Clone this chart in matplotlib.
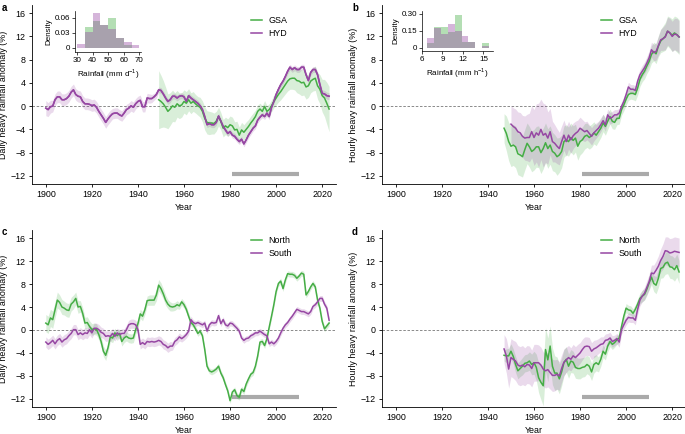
import numpy as np
import matplotlib
matplotlib.use("Agg")
import matplotlib.pyplot as plt

plt.rcParams['font.family'] = ['Liberation Sans', 'DejaVu Sans']
plt.rcParams['mathtext.fontset'] = 'custom'
plt.rcParams['mathtext.rm'] = 'Liberation Sans'
plt.rcParams['axes.unicode_minus'] = True

# =============================================================================
# data

years_full = np.arange(1900, 2024)

# a) daily, GSA vs HYD
hyd_a = [-0.35,-0.6,-0.1,0.0,1.1,1.6,1.6,1.1,1.1,1.3,
         1.7,2.4,2.8,2.0,1.7,1.6,0.8,0.4,0.4,0.3,
         0.1,0.2,-0.2,-0.9,-1.5,-2.1,-2.8,-2.2,-1.7,-1.3,
         -1.2,-1.2,-1.5,-1.7,-1.2,-0.6,-0.35,0.05,-0.2,0.4,
         0.8,1.0,-0.1,-0.1,1.4,1.3,1.3,1.6,2.0,2.8,
         2.7,2.1,1.4,0.8,1.1,1.7,1.7,1.4,1.7,1.8,
         1.6,0.8,1.8,1.4,1.1,0.8,0.5,0.05,-0.6,-1.8,
         -3.2,-3.0,-3.2,-3.2,-2.8,-1.7,-2.6,-3.5,-4.1,-4.7,
         -4.4,-5.0,-5.2,-5.7,-6.1,-5.7,-6.5,-5.8,-5.0,-4.4,
         -3.8,-3.4,-2.4,-1.9,-1.5,-1.8,-1.2,-1.8,-0.2,0.8,
         2.0,2.9,3.7,4.3,5.1,6.0,6.7,6.3,6.6,6.3,
         6.3,6.7,6.7,5.4,4.4,5.8,6.3,6.3,5.4,3.7,
         2.2,2.1,1.8,1.7]
hyd_a_err = [1.3,1.2,1.1,1.0,1.0,1.0,1.0,1.0,1.0,1.0,
             1.0,1.0,1.0,1.0,1.0,1.0,1.0,1.0,1.0,1.0,
             1.0,1.0,1.0,1.0,1.0,1.0,1.0,1.0,1.0,0.9,
             0.9,0.9,0.9,0.9,0.9,0.9,0.9,0.9,0.9,0.9,
             0.9,0.9,0.9,0.9,0.8,0.8,0.7,0.6,0.6,0.5,
             0.5,0.5,0.5,0.5,0.5,0.5,0.5,0.5,0.5,0.5,
             0.5,0.5,0.5,0.5,0.5,0.5,0.5,0.5,0.5,0.5,
             0.5,0.5,0.5,0.5,0.5,0.5,0.5,0.5,0.5,0.5,
             0.5,0.5,0.5,0.5,0.5,0.5,0.5,0.5,0.5,0.5,
             0.5,0.5,0.5,0.5,0.5,0.5,0.5,0.5,0.5,0.5,
             0.5,0.5,0.5,0.5,0.5,0.5,0.5,0.5,0.5,0.5,
             0.5,0.5,0.5,0.5,0.5,0.5,0.5,0.5,0.5,0.6,
             0.6,0.6,0.6,0.6]
years_gsa_a = np.arange(1949, 2024)
gsa_a = [1.1,
         0.8,0.4,-0.2,-0.9,-0.5,0.05,-0.2,0.4,0.05,0.2,
         0.8,0.5,1.1,0.5,0.8,0.4,0.05,-0.2,-0.9,-2.1,
         -2.8,-2.9,-2.9,-3.0,-2.6,-1.8,-2.6,-3.8,-3.4,-3.7,
         -3.2,-3.4,-4.1,-4.0,-5.0,-4.1,-4.5,-4.0,-3.5,-2.9,
         -2.4,-1.8,-0.9,-0.5,-0.9,-0.05,-0.9,-0.6,0.05,0.8,
         1.4,2.0,2.5,3.1,3.7,4.3,4.7,4.8,4.8,4.4,
         4.3,4.0,4.1,3.3,3.5,4.3,4.6,4.8,3.5,2.9,
         1.8,1.4,0.5,-0.5]
gsa_a_err = [5.0,
             4.5,4.0,3.5,3.0,2.8,2.7,2.5,2.3,2.2,2.1,
             2.0,2.0,1.9,1.8,1.7,1.6,1.6,1.7,1.8,2.0,
             2.0,2.0,1.9,1.8,1.7,1.6,1.5,1.5,1.5,1.5,
             1.5,1.5,1.4,1.4,1.4,1.3,1.3,1.3,1.2,1.2,
             1.2,1.1,1.1,1.0,1.0,1.0,1.0,1.0,1.0,1.1,
             1.2,1.3,1.4,1.5,1.6,1.7,1.8,1.9,2.0,2.1,
             2.2,2.2,2.2,2.1,2.0,2.0,2.0,2.1,2.3,2.5,
             2.8,3.2,3.6,3.9]

# b) hourly, GSA vs HYD
years_gsa_b = np.arange(1947, 2024)
gsa_b = [-3.8,-4.7,-6.1,
         -6.9,-6.7,-7.0,-8.2,-8.4,-8.7,-7.5,-6.4,-7.0,-7.8,
         -7.5,-7.0,-7.0,-8.0,-7.3,-6.3,-7.3,-6.7,-7.8,-8.1,
         -8.7,-8.4,-7.8,-6.1,-5.8,-6.1,-5.4,-5.9,-5.5,-6.9,
         -6.1,-5.8,-5.2,-5.0,-5.4,-5.1,-4.6,-5.0,-4.4,-3.8,
         -2.9,-3.5,-2.6,-1.8,-2.6,-2.8,-2.1,-2.1,-0.6,0.2,
         1.2,2.0,2.2,2.2,2.0,3.1,4.6,5.4,6.0,6.9,
         7.7,8.9,9.4,9.0,10.3,11.2,11.6,12.0,12.9,12.6,
         12.2,12.6,12.3,11.9]
gsa_b_err = [2.5,3.0,3.3,
             3.5,3.5,3.6,3.6,3.6,3.5,3.5,3.5,3.5,3.5,
             3.5,3.5,3.6,3.6,3.5,3.4,3.4,3.3,3.3,3.2,
             3.2,3.0,2.8,2.7,2.6,2.5,2.5,2.5,2.4,2.4,
             2.3,2.2,2.2,2.1,2.0,2.0,1.9,1.8,1.7,1.6,
             1.5,1.5,1.4,1.3,1.3,1.2,1.1,1.0,1.0,1.0,
             1.0,1.0,1.0,1.1,1.1,1.2,1.2,1.2,1.3,1.3,
             1.4,1.5,1.6,1.7,1.8,2.0,2.2,2.4,2.6,2.7,
             2.8,2.9,3.0,3.0]
years_hyd_b = np.arange(1950, 2024)
hyd_b = [-3.1,-3.5,-3.8,-4.4,-4.6,-5.2,-5.5,-5.4,-5.4,-4.4,
         -5.4,-4.6,-5.0,-4.0,-5.0,-4.7,-5.5,-4.4,-6.1,-6.4,
         -6.9,-7.3,-6.1,-5.0,-6.1,-5.0,-5.8,-5.1,-4.7,-4.4,
         -3.8,-4.1,-4.4,-4.2,-4.7,-5.2,-4.6,-4.2,-3.8,-3.2,
         -2.5,-3.2,-1.5,-2.1,-1.9,-1.5,-1.5,-1.2,-0.05,0.8,
         2.0,3.3,2.9,2.9,2.7,4.3,5.4,6.0,6.6,7.4,
         8.3,9.7,9.2,9.4,10.4,11.4,11.6,11.9,12.9,12.6,
         12.0,12.4,12.3,11.9]
hyd_b_err = [3.2,3.2,3.3,3.4,3.5,3.6,3.8,4.0,4.2,4.5,
             4.8,5.0,5.5,5.2,5.5,5.0,4.5,4.0,3.5,3.2,
             3.0,2.8,2.7,2.6,2.5,2.4,2.3,2.2,2.1,2.0,
             1.9,1.8,1.7,1.6,1.5,1.5,1.4,1.3,1.2,1.2,
             1.1,1.1,1.0,1.0,1.0,0.9,0.9,0.8,0.8,0.8,
             0.8,0.8,0.8,0.8,0.8,0.9,0.9,1.0,1.0,1.1,
             1.2,1.3,1.4,1.5,1.6,1.8,2.0,2.2,2.4,2.5,
             2.6,2.7,2.8,2.8]

# c) daily, North vs South
north_c = [1.2,0.9,2.1,1.8,3.5,5.2,4.8,4.0,3.8,3.5,
           3.4,4.5,4.9,5.5,4.0,4.1,2.9,1.2,1.3,0.6,
           0.1,0.2,0.1,-0.8,-2.0,-3.7,-4.4,-3.1,-1.2,-1.4,
           -0.5,-1.0,-0.6,-2.0,-1.4,-1.1,-1.4,-1.5,-1.4,0.06,
           1.1,2.8,2.4,3.5,5.1,5.2,5.2,5.2,6.1,7.8,
           7.2,6.3,5.2,4.5,4.1,4.0,4.1,4.4,4.2,4.9,
           4.4,3.6,2.4,1.3,0.9,0.2,-0.6,-0.2,-1.0,-3.4,
           -6.3,-7.1,-7.3,-7.1,-6.8,-6.3,-7.5,-8.3,-9.5,-10.6,
           -12.3,-10.8,-10.4,-11.4,-11.7,-10.3,-10.7,-9.4,-8.5,-7.7,
           -7.4,-6.3,-4.5,-2.1,-2.0,-2.7,-1.5,0.5,2.4,4.4,
           6.7,8.1,8.5,7.2,8.7,9.8,9.7,9.7,9.5,9.0,
           9.4,9.9,9.7,6.1,6.7,7.5,8.1,7.5,5.2,3.8,
           1.5,0.2,0.7,1.2]
north_c_err = [1.5,1.5,1.5,1.5,1.4,1.4,1.3,1.3,1.2,1.2,
               1.2,1.2,1.2,1.1,1.1,1.0,1.0,1.0,1.0,1.0,
               1.0,1.0,1.0,0.9,0.9,0.9,0.9,0.8,0.8,0.8,
               0.8,0.8,0.8,0.8,0.8,0.8,0.8,0.8,0.8,0.8,
               0.8,0.8,0.8,0.8,0.8,0.9,0.9,0.9,1.0,1.0,
               1.0,0.9,0.9,0.8,0.8,0.7,0.7,0.7,0.6,0.6,
               0.6,0.6,0.6,0.6,0.5,0.5,0.5,0.5,0.5,0.5,
               0.5,0.5,0.5,0.5,0.5,0.5,0.5,0.5,0.5,0.5,
               0.5,0.5,0.5,0.5,0.5,0.5,0.5,0.5,0.5,0.5,
               0.5,0.5,0.5,0.5,0.5,0.5,0.5,0.5,0.5,0.5,
               0.5,0.5,0.5,0.5,0.5,0.5,0.5,0.5,0.5,0.5,
               0.5,0.5,0.5,0.5,0.5,0.5,0.5,0.5,0.5,0.5,
               0.5,0.5,0.5,0.5]
south_c = [-2.1,-2.5,-2.2,-1.8,-2.4,-1.8,-1.5,-2.1,-1.7,-1.5,
           -1.0,-0.6,0.06,0.06,-0.8,-0.5,-0.8,-0.5,-0.6,0.06,
           -0.5,0.3,0.3,0.06,-0.4,-0.6,-1.1,-1.0,-1.1,-0.6,
           -1.1,-0.5,-0.8,-0.6,-0.6,0.06,0.9,1.1,1.1,0.9,
           0.06,-2.5,-2.2,-2.5,-2.0,-2.1,-2.0,-2.1,-2.0,-1.8,
           -2.0,-2.5,-2.7,-3.1,-2.8,-2.8,-2.0,-1.7,-1.2,-1.5,
           -1.2,-0.8,-0.2,1.8,1.3,1.1,1.3,1.1,0.9,1.2,
           -0.2,0.9,1.3,1.2,1.3,2.5,1.1,1.8,0.9,0.7,
           1.2,1.1,0.7,0.3,-0.2,-1.4,-1.8,-1.5,-1.4,-1.0,
           -0.8,-0.5,-0.5,-0.2,-0.5,-0.8,-1.0,-2.4,-2.1,-2.4,
           -2.0,-1.4,-0.5,0.3,0.9,1.3,1.9,2.4,3.0,3.6,
           3.4,3.2,3.2,3.0,2.8,3.2,4.1,4.4,4.9,5.5,
           5.5,4.5,3.8,1.7]
south_c_err = [0.9,0.9,0.9,0.9,0.9,0.9,0.9,0.9,0.9,0.9,
               0.9,0.9,0.9,0.9,0.9,0.9,0.9,0.9,0.9,0.9,
               0.9,0.9,0.9,0.9,0.9,0.9,0.9,0.9,0.9,0.9,
               0.8,0.8,0.8,0.8,0.8,0.8,0.8,0.8,0.8,0.8,
               0.8,0.8,0.8,0.8,0.8,0.8,0.8,0.8,0.8,0.8,
               0.8,0.8,0.8,0.8,0.8,0.7,0.7,0.7,0.7,0.6,
               0.6,0.6,0.6,0.6,0.5,0.5,0.5,0.5,0.5,0.5,
               0.5,0.5,0.5,0.5,0.5,0.5,0.5,0.5,0.5,0.5,
               0.5,0.5,0.5,0.5,0.5,0.5,0.5,0.5,0.5,0.5,
               0.5,0.5,0.5,0.5,0.5,0.5,0.5,0.5,0.5,0.5,
               0.5,0.5,0.5,0.5,0.5,0.5,0.5,0.5,0.5,0.5,
               0.5,0.5,0.5,0.5,0.5,0.5,0.5,0.5,0.5,0.5,
               0.5,0.5,0.5,0.5]

# d) hourly, North vs South
years_d = np.arange(1947, 2024)
north_d = [-4.4,-4.5,-4.5,
           -3.7,-4.6,-6.0,-7.1,-6.7,-6.3,-5.8,-5.7,-5.4,-6.0,
           -5.7,-6.5,-8.3,-9.1,-9.7,-3.4,-5.2,-2.8,-6.3,-7.5,
           -7.5,-8.5,-7.3,-5.7,-5.1,-6.3,-5.4,-5.6,-6.5,-6.7,
           -6.7,-6.5,-6.4,-6.0,-6.3,-7.3,-6.0,-5.7,-6.0,-5.1,
           -3.7,-4.2,-2.8,-2.0,-2.5,-2.2,-1.7,-1.4,0.6,2.4,
           3.8,3.5,3.4,2.9,3.6,4.5,5.5,5.9,6.2,7.1,
           8.2,9.2,8.1,7.8,9.0,10.7,10.9,11.6,11.8,11.0,
           10.9,10.5,11.2,10.1]
north_d_err = [1.0,1.2,1.3,
               1.3,1.3,1.4,1.4,1.4,1.5,1.5,1.5,1.6,1.8,
               2.0,2.3,2.6,3.0,3.5,3.8,3.8,3.5,3.2,3.0,
               2.8,2.6,2.4,2.3,2.2,2.1,2.0,1.9,1.9,1.8,
               1.8,1.7,1.7,1.6,1.6,1.5,1.5,1.4,1.3,1.2,
               1.1,1.0,1.0,0.9,0.9,0.8,0.8,0.8,0.8,0.8,
               0.8,0.8,0.8,0.8,0.8,0.9,0.9,1.0,1.0,1.1,
               1.2,1.3,1.4,1.5,1.6,1.7,1.8,1.9,2.0,2.0,
               2.0,2.0,2.0,2.0]
south_d = [-3.3,-4.5,-6.8,
           -4.8,-5.1,-5.4,-6.1,-6.3,-6.1,-6.4,-6.0,-6.1,-6.7,
           -5.7,-5.7,-5.7,-6.1,-6.8,-7.1,-6.9,-7.4,-7.9,-7.9,
           -7.7,-8.0,-6.7,-5.6,-5.2,-4.8,-5.1,-4.5,-4.8,-4.4,
           -4.0,-3.4,-2.9,-2.8,-2.9,-3.7,-3.3,-3.1,-2.8,-2.5,
           -2.4,-1.8,-1.7,-1.4,-2.0,-1.8,-1.5,-2.1,0.06,0.9,
           1.7,2.2,2.1,2.1,1.7,3.6,5.2,5.9,6.4,7.4,
           8.4,9.9,9.8,10.4,11.1,12.1,12.8,13.8,13.7,13.4,
           13.5,13.7,13.6,13.5]
south_d_err = [2.5,3.0,3.3,
               3.3,3.3,3.4,3.4,3.4,3.4,3.3,3.3,3.3,3.2,
               3.2,3.2,3.1,3.1,3.0,3.0,3.0,2.9,2.8,2.7,
               2.6,2.5,2.4,2.3,2.2,2.1,2.0,2.0,1.9,1.9,
               1.8,1.8,1.7,1.6,1.6,1.5,1.5,1.4,1.3,1.3,
               1.2,1.1,1.1,1.0,1.0,0.9,0.9,0.9,0.8,0.8,
               0.8,0.8,0.8,0.8,0.8,0.9,1.0,1.0,1.1,1.2,
               1.3,1.4,1.5,1.6,1.8,2.0,2.2,2.4,2.5,2.5,
               2.5,2.5,2.5,2.5]

# inset histograms
bins_daily = np.arange(30, 75, 5)
dens_daily_gsa = [0.0, 0.041, 0.053, 0.045, 0.059, 0.02, 0.005, 0.0]
dens_daily_hyd = [0.007, 0.031, 0.069, 0.045, 0.037, 0.019, 0.012, 0.005]
bins_hourly = np.arange(6.8, 16.0, 1.0)
dens_hourly_gsa = [0.045, 0.18, 0.18, 0.14, 0.285, 0.05, 0.05, 0.0, 0.04]
dens_hourly_hyd = [0.09, 0.17, 0.12, 0.21, 0.15, 0.10, 0.05, 0.0, 0.015]

ref_period = [1981, 2010]

# =============================================================================
# styling

GREEN = '#45ad45'
PURPLE = '#9647a3'
FS = 6.4
W, H = 685., 434.

fig = plt.figure(figsize=(W/100, H/100), dpi=100)

def px_axes(l, t, r, b):
    return fig.add_axes([l/W, 1-b/H, (r-l)/W, (b-t)/H])

def style_main(ax, ylab):
    ax.set_xlim(1894, 2026)
    ax.set_ylim(-13.4, 17.4)
    ax.set_xticks(np.arange(1900, 2021, 20))
    ax.set_yticks(np.arange(-12, 17, 4))
    for s in ['top', 'right']:
        ax.spines[s].set_visible(False)
    for s in ['left', 'bottom']:
        ax.spines[s].set_linewidth(0.6)
    ax.tick_params(labelsize=FS, length=2.5, width=0.6, pad=2)
    ax.set_xlabel('Year', fontsize=FS, labelpad=2.5)
    ax.set_ylabel(ylab, fontsize=FS, labelpad=2)
    ax.axhline(0, color='#777777', lw=0.6, ls=(0, (3, 2)), zorder=1)
    ax.plot(ref_period, [-11.7, -11.7], color='#aaaaaa', lw=3, solid_capstyle='butt', zorder=2)

def band_line(ax, x, y, e, color, label):
    y = np.array(y); e = np.array(e)
    ax.fill_between(x, y-e, y+e, color=color, alpha=0.2, lw=0, zorder=2)
    ax.plot(x, y, color=color, lw=1.1, label=label, zorder=3)

def legend(ax, ytop):
    ax.legend(loc='upper left', bbox_to_anchor=(0.72, ytop), frameon=False, fontsize=FS,
              handlelength=1.2, handletextpad=0.8, labelspacing=0.45, borderpad=0, borderaxespad=0)

def inset(ax, bins, g, p, width, xlim, ylim, xt, yt, ytl, xlab):
    ax.bar(bins[:len(g)], g, width=width, align='edge', color=GREEN, alpha=0.4, lw=0)
    ax.bar(bins[:len(p)], p, width=width, align='edge', color=PURPLE, alpha=0.4, lw=0)
    ax.set_xlim(*xlim); ax.set_ylim(*ylim)
    ax.set_xticks(xt); ax.set_yticks(yt); ax.set_yticklabels(ytl)
    for s in ['top', 'right']:
        ax.spines[s].set_visible(False)
    for s in ['left', 'bottom']:
        ax.spines[s].set_linewidth(0.5)
    ax.tick_params(labelsize=5.8, length=2, width=0.5, pad=1.5)
    ax.set_xlabel(xlab, fontsize=5.8, labelpad=2)
    ax.set_ylabel('Density', fontsize=5.8, labelpad=1.5)

# a
ax = px_axes(32, 5, 336, 184)
style_main(ax, 'Daily heavy rainfall anomaly (%)')
band_line(ax, years_full, hyd_a, hyd_a_err, PURPLE, None)
band_line(ax, years_gsa_a, gsa_a, gsa_a_err, GREEN, 'GSA')
ax.plot(years_full, hyd_a, color=PURPLE, lw=1.1, label='HYD', zorder=4)
legend(ax, 0.94)

# b
ax = px_axes(382, 5, 686, 184)
style_main(ax, 'Hourly heavy rainfall anomaly (%)')
band_line(ax, years_gsa_b, gsa_b, gsa_b_err, GREEN, 'GSA')
band_line(ax, years_hyd_b, hyd_b, hyd_b_err, PURPLE, 'HYD')
legend(ax, 0.94)

# c
ax = px_axes(32, 230, 336, 407)
style_main(ax, 'Daily heavy rainfall anomaly (%)')
band_line(ax, years_full, north_c, north_c_err, GREEN, 'North')
band_line(ax, years_full, south_c, south_c_err, PURPLE, 'South')
legend(ax, 0.965)

# d
ax = px_axes(382, 230, 686, 407)
style_main(ax, 'Hourly heavy rainfall anomaly (%)')
band_line(ax, years_d, north_d, north_d_err, GREEN, 'North')
band_line(ax, years_d, south_d, south_d_err, PURPLE, 'South')
legend(ax, 0.965)

# insets
ia = px_axes(75, 11, 141, 52)
inset(ia, bins_daily, dens_daily_gsa, dens_daily_hyd, 5, (28.7, 71), (-0.0086, 0.073),
      [30, 40, 50, 60, 70], [0, 0.03, 0.06], ['0', '0.03', '0.06'], r'Rainfall (mm d$^{-1}$)')
ib = px_axes(422, 11, 493, 51)
inset(ib, bins_hourly, dens_hourly_gsa, dens_hourly_hyd, 1.0, (6, 16.4), (-0.029, 0.324),
      [6, 9, 12, 15], [0, 0.15, 0.30], ['0', '0.15', '0.30'], r'Rainfall (mm h$^{-1}$)')

# panel letters
for lab, x, y in [('a', 2, 8), ('b', 352, 8), ('c', 2, 232), ('d', 352, 232)]:
    fig.text(x/W, 1-y/H, lab, fontsize=7, fontweight='bold', va='center', ha='left')

fig.savefig('out.png', dpi=100)
